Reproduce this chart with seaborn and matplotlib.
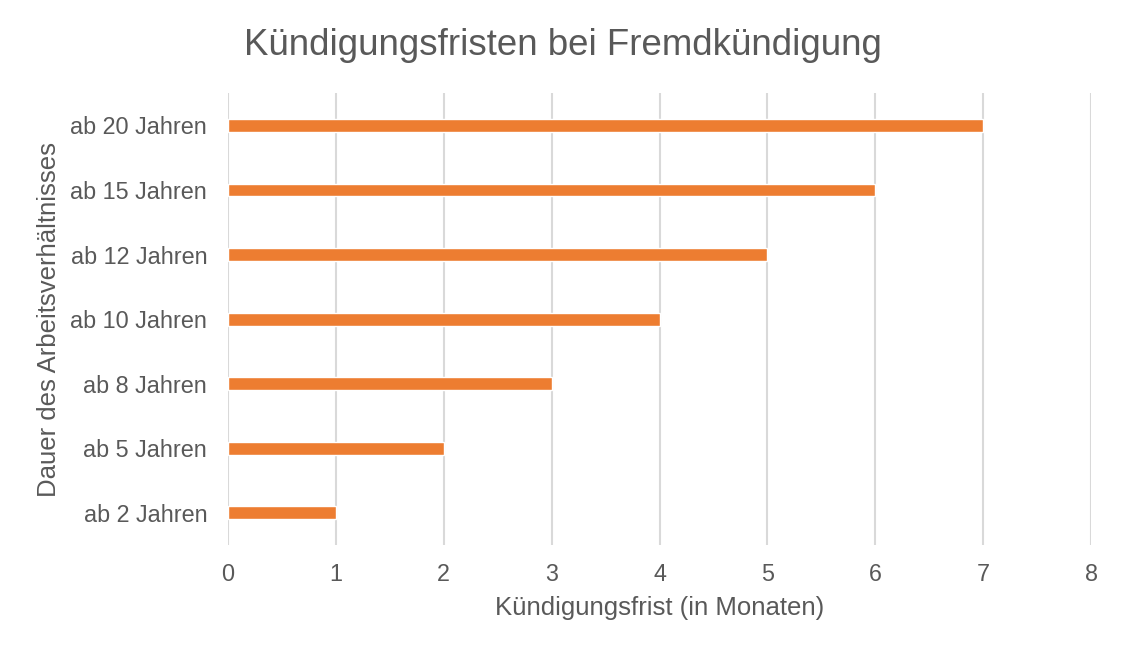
import pandas as pd
import matplotlib
matplotlib.use("Agg")
import matplotlib.pyplot as plt
import seaborn as sns

# --- chart data ---
dauer = ['ab 2 Jahren', 'ab 5 Jahren', 'ab 8 Jahren', 'ab 10 Jahren',
         'ab 12 Jahren', 'ab 15 Jahren', 'ab 20 Jahren']
frist_monate = [1, 2, 3, 4, 5, 6, 7]
x_ticks = [0, 1, 2, 3, 4, 5, 6, 7, 8]

title = 'Kündigungsfristen bei Fremdkündigung'
x_label = 'Kündigungsfrist (in Monaten)'
y_label = 'Dauer des Arbeitsverhältnisses'

bar_color = '#ED7D31'
text_color = '#595959'
grid_color = '#D9D9D9'

df = pd.DataFrame({'Dauer': dauer, 'Frist': frist_monate})

sns.set_theme(style='white')
plt.rcParams['font.family'] = ['Liberation Sans', 'DejaVu Sans']

fig = plt.figure(figsize=(11.26, 6.56), dpi=100)
ax = fig.add_axes([0.2025, 0.169, 0.7665, 0.689])

# top category first
sns.barplot(data=df, x='Frist', y='Dauer', order=dauer[::-1], orient='h',
            color=bar_color, saturation=1, width=0.2, ax=ax)

ax.set_xlim(0, 8)
ax.set_ylim(6.5, -0.5)
ax.set_xticks(x_ticks)
ax.xaxis.grid(True, color=grid_color, linewidth=1.5)
ax.yaxis.grid(False)
ax.set_axisbelow(True)
for s in ax.spines.values():
    s.set_visible(False)

ax.tick_params(axis='y', length=0, labelsize=16.8, colors=text_color, pad=15)
ax.tick_params(axis='x', length=0, labelsize=16.8, colors=text_color, pad=13)
ax.set_xlabel(x_label, fontsize=18.5, color=text_color, labelpad=7)
ax.set_ylabel(y_label, fontsize=18.5, color=text_color, labelpad=7)

fig.suptitle(title, fontsize=26.4, color=text_color, x=0.5, y=0.958)

fig.savefig('out.png', dpi=100)
